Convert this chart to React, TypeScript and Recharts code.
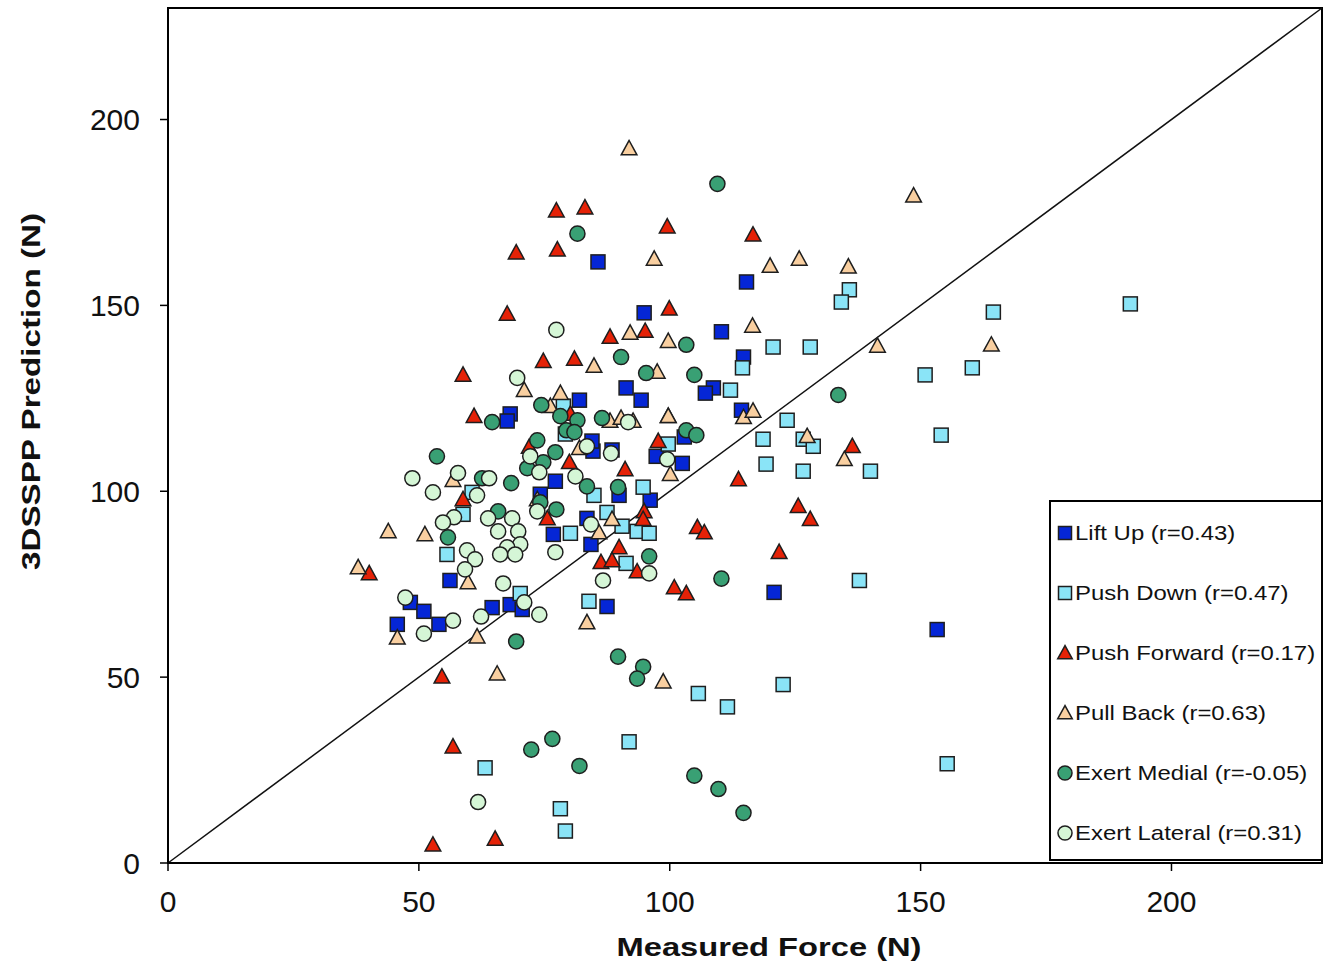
import React from 'react';
import {
  ScatterChart,
  Scatter,
  XAxis,
  YAxis,
  ReferenceLine,
  ReferenceArea,
  Legend,
  Label,
} from 'recharts';

const FONT = '"Liberation Sans", Arial, Helvetica, sans-serif';

// [measured force, 3DSSPP prediction]
const liftUp: number[][] = [
  [85.7, 161.7], [115.3, 156.3], [94.9, 148.0], [110.3, 142.9], [114.7, 136.1], [108.7, 127.8],
  [107.1, 126.4], [91.3, 127.8], [94.3, 124.5], [82.0, 124.5], [68.2, 120.8], [67.6, 118.9],
  [114.3, 121.8], [102.9, 114.6], [102.5, 107.5], [97.3, 109.4], [88.5, 111.1], [84.7, 110.8],
  [84.5, 113.5], [77.2, 102.7], [74.2, 99.2], [89.9, 98.9], [96.1, 97.6], [83.5, 92.7],
  [76.8, 88.4], [84.3, 85.7], [56.2, 76.0], [45.7, 64.2], [48.3, 70.1], [51.0, 67.7],
  [54.0, 64.2], [64.6, 68.7], [68.2, 69.5], [70.6, 68.2], [87.5, 69.0], [120.8, 72.8],
  [153.3, 62.8],
];

const pushDown: number[][] = [
  [191.8, 150.4], [135.8, 154.2], [134.2, 150.9], [164.5, 148.2], [150.9, 131.3], [160.3, 133.2],
  [154.1, 115.1], [140.0, 105.4], [137.8, 76.0], [155.3, 26.7], [122.6, 48.0], [111.5, 42.0],
  [105.7, 45.6], [91.9, 32.6], [63.2, 25.6], [78.2, 14.6], [79.2, 8.6], [83.9, 70.4],
  [55.6, 83.0], [120.6, 138.8], [128.0, 138.8], [114.5, 133.2], [112.1, 127.2], [123.4, 119.1],
  [118.6, 114.0], [126.6, 114.0], [128.6, 112.1], [119.2, 107.3], [126.6, 105.4], [99.7, 112.7],
  [94.7, 101.1], [84.9, 98.9], [87.5, 94.3], [90.5, 90.6], [93.5, 89.2], [95.9, 88.7],
  [91.3, 80.6], [78.8, 122.9], [79.2, 115.4], [60.6, 99.7], [58.8, 93.8], [80.2, 88.7],
  [70.2, 72.5],
];

const pushForward: number[][] = [
  [77.4, 175.5], [83.1, 176.3], [77.6, 165.0], [69.4, 164.2], [99.5, 171.2], [116.6, 169.0],
  [67.6, 147.7], [99.9, 149.1], [88.1, 141.5], [95.1, 143.1], [58.8, 131.3], [74.8, 135.0],
  [81.0, 135.6], [61.0, 120.2], [80.2, 120.8], [99.7, 120.2], [72.0, 111.9], [80.0, 107.8],
  [97.7, 113.5], [91.1, 105.9], [113.7, 103.2], [58.8, 97.8], [75.6, 92.7], [40.1, 77.9],
  [94.9, 94.6], [94.7, 92.5], [125.6, 96.0], [128.0, 92.5], [105.5, 90.3], [106.9, 88.9],
  [89.9, 84.9], [86.3, 80.9], [88.5, 81.4], [93.5, 78.4], [121.8, 83.6], [100.9, 74.1],
  [103.3, 72.5], [136.4, 112.1], [54.6, 50.1], [56.8, 31.3], [52.8, 4.9], [65.2, 6.5],
];

const pullBack: number[][] = [
  [91.9, 192.2], [148.6, 179.5], [96.9, 162.5], [120.0, 160.6], [125.8, 162.5], [135.6, 160.4],
  [141.4, 139.1], [164.1, 139.4], [116.5, 144.5], [92.1, 142.6], [99.7, 140.4], [97.5, 132.1],
  [84.9, 133.7], [71.0, 127.2], [78.2, 126.4], [76.2, 122.9], [114.7, 119.9], [116.6, 121.6],
  [88.1, 118.9], [90.3, 119.7], [92.7, 118.9], [99.7, 120.2], [100.1, 104.6], [82.0, 111.6],
  [56.8, 103.0], [73.6, 97.8], [43.9, 89.2], [51.2, 88.4], [37.9, 79.5], [59.8, 75.5],
  [88.5, 92.5], [85.9, 88.9], [127.4, 114.8], [134.8, 108.6], [45.7, 60.6], [61.6, 60.9],
  [83.5, 64.7], [65.6, 50.9], [98.7, 48.8],
];

const exertMedial: number[][] = [
  [109.5, 182.7], [81.6, 169.3], [133.6, 125.9], [110.3, 76.5], [89.7, 55.5], [94.7, 52.8],
  [93.5, 49.6], [72.4, 30.5], [76.6, 33.4], [82.0, 26.1], [104.9, 23.5], [109.7, 19.9],
  [114.7, 13.5], [69.4, 59.6], [53.6, 109.4], [64.6, 118.6], [103.3, 139.4], [90.3, 136.1],
  [95.3, 131.8], [104.9, 131.3], [74.4, 123.2], [78.2, 120.2], [81.6, 119.1], [79.4, 116.4],
  [81.0, 115.9], [73.6, 113.7], [77.2, 110.5], [71.6, 106.2], [74.8, 107.8], [62.6, 103.5],
  [68.4, 102.2], [83.5, 101.3], [74.2, 97.0], [77.4, 95.1], [65.8, 94.6], [55.8, 87.6],
  [86.5, 119.7], [103.3, 116.4], [105.3, 115.1], [89.7, 101.1], [95.9, 82.5],
];

const exertLateral: number[][] = [
  [77.4, 143.4], [69.6, 130.5], [48.7, 103.5], [57.8, 104.9], [64.0, 103.5], [61.6, 98.9],
  [52.8, 99.7], [72.2, 109.4], [74.0, 105.1], [81.2, 104.0], [83.5, 112.1], [73.6, 94.6],
  [63.8, 92.7], [68.6, 92.7], [65.8, 89.2], [69.8, 89.2], [70.2, 85.7], [67.6, 84.9],
  [66.2, 83.0], [69.2, 83.0], [77.2, 83.6], [57.0, 93.0], [54.8, 91.6], [59.6, 84.1],
  [61.2, 81.7], [59.2, 79.0], [66.8, 75.2], [47.3, 71.4], [71.0, 70.1], [74.0, 66.8],
  [62.4, 66.3], [56.8, 65.2], [51.0, 61.7], [91.7, 118.6], [88.3, 110.2], [99.5, 108.6],
  [84.3, 91.1], [86.7, 76.0], [95.9, 77.9], [61.8, 16.4],
];

const xTicks = [0, 50, 100, 150, 200];
const yTicks = [0, 50, 100, 150, 200];
const axisMax = 230;

type ShapeKind = 'square' | 'triangle' | 'circle';

const SERIES: { name: string; data: number[][]; fill: string; kind: ShapeKind }[] = [
  { name: 'Lift Up (r=0.43)', data: liftUp, fill: '#0526d6', kind: 'square' },
  { name: 'Push Down (r=0.47)', data: pushDown, fill: '#8ae4f7', kind: 'square' },
  { name: 'Push Forward (r=0.17)', data: pushForward, fill: '#e52207', kind: 'triangle' },
  { name: 'Pull Back (r=0.63)', data: pullBack, fill: '#f9cfa0', kind: 'triangle' },
  { name: 'Exert Medial (r=-0.05)', data: exertMedial, fill: '#39a074', kind: 'circle' },
  { name: 'Exert Lateral (r=0.31)', data: exertLateral, fill: '#d5f6d6', kind: 'circle' },
];

const STROKE = '#1e1e1e';

function Marker({ cx, cy, fill, kind, size }: { cx: number; cy: number; fill: string; kind: ShapeKind; size: number }) {
  if (cx == null || cy == null || isNaN(cx) || isNaN(cy)) return null;
  const h = size / 2;
  if (kind === 'square') {
    return <rect x={cx - h} y={cy - h} width={size} height={size} fill={fill} stroke={STROKE} strokeWidth={1.5} />;
  }
  if (kind === 'triangle') {
    const w = h * 1.12;
    const pts = `${cx},${cy - h * 1.15} ${cx - w},${cy + h * 0.9} ${cx + w},${cy + h * 0.9}`;
    return <polygon points={pts} fill={fill} stroke={STROKE} strokeWidth={1.5} strokeLinejoin="miter" />;
  }
  return <circle cx={cx} cy={cy} r={h * 1.08} fill={fill} stroke={STROKE} strokeWidth={1.5} />;
}

const LegendBox = () => (
  <div
    style={{
      width: 274,
      height: 361,
      boxSizing: 'border-box',
      border: '2px solid #000',
      background: '#fff',
      paddingTop: 1,
      fontFamily: FONT,
    }}
  >
    {SERIES.map((s) => (
      <div key={s.name} style={{ height: 60, display: 'flex', alignItems: 'center', paddingLeft: 6 }}>
        <svg width={16} height={16} style={{ overflow: 'visible', flex: 'none' }}>
          <Marker cx={8} cy={8} fill={s.fill} kind={s.kind} size={13} />
        </svg>
        <span
          style={{
            fontSize: 21,
            marginLeft: 2,
            display: 'inline-block',
            whiteSpace: 'nowrap',
            color: '#111',
            transform: 'scaleX(1.14)',
            transformOrigin: 'left center',
          }}
        >
          {s.name}
        </span>
      </div>
    ))}
  </div>
);

const XTitle = (props: any) => {
  const vb = props.viewBox || { x: 168, y: 863, width: 1154, height: 97 };
  const cx = vb.x + vb.width / 2 + 24;
  const y = vb.y + 93;
  return (
    <text
      x={cx}
      y={y}
      textAnchor="middle"
      fontFamily={FONT}
      fontWeight="bold"
      fontSize={25}
      fill="#111"
      textLength={305}
      lengthAdjust="spacingAndGlyphs"
    >
      Measured Force (N)
    </text>
  );
};

const YTitle = (props: any) => {
  const vb = props.viewBox || { x: 0, y: 8, width: 168, height: 855 };
  const x = vb.x + 40;
  const cy = vb.y + vb.height / 2 - 44;
  return (
    <text
      x={x}
      y={cy}
      transform={`rotate(-90, ${x}, ${cy})`}
      textAnchor="middle"
      fontFamily={FONT}
      fontWeight="bold"
      fontSize={25}
      fill="#111"
      textLength={357}
      lengthAdjust="spacingAndGlyphs"
    >
      3DSSPP Prediction (N)
    </text>
  );
};

export default function App() {
  return (
    <div style={{ position: 'absolute', left: 0, top: 0, width: 1324, height: 968, background: '#fff' }}>
      <ScatterChart width={1324} height={968} margin={{ top: 8, right: 2, bottom: 8, left: 0 }}>
        <XAxis
          type="number"
          dataKey="x"
          domain={[0, axisMax]}
          ticks={xTicks}
          interval={0}
          allowDataOverflow
          height={97}
          tickSize={8}
          tickMargin={20}
          tick={{ fontSize: 30, fill: '#111', fontFamily: FONT }}
          axisLine={{ stroke: '#000', strokeWidth: 2 }}
          tickLine={{ stroke: '#000', strokeWidth: 1.5 }}
        >
          <Label content={XTitle} />
        </XAxis>
        <YAxis
          type="number"
          dataKey="y"
          domain={[0, axisMax]}
          ticks={yTicks}
          interval={0}
          allowDataOverflow
          width={168}
          tickSize={8}
          tickMargin={20}
          tick={{ fontSize: 30, fill: '#111', fontFamily: FONT }}
          axisLine={{ stroke: '#000', strokeWidth: 2 }}
          tickLine={{ stroke: '#000', strokeWidth: 1.5 }}
        >
          <Label content={YTitle} />
        </YAxis>
        <ReferenceArea x1={0} x2={axisMax} y1={0} y2={axisMax} fill="none" stroke="#000" strokeWidth={2} />
        <ReferenceLine
          segment={[{ x: 0, y: 0 }, { x: axisMax, y: axisMax }]}
          stroke="#111"
          strokeWidth={1.5}
        />
        {SERIES.map((s) => (
          <Scatter
            key={s.name}
            name={s.name}
            data={s.data.map(([x, y]) => ({ x, y }))}
            fill={s.fill}
            isAnimationActive={false}
            shape={(p: any) => <Marker cx={p.cx} cy={p.cy} fill={s.fill} kind={s.kind} size={14} />}
          />
        ))}
        <Legend
          content={LegendBox}
          layout="horizontal"
          verticalAlign="middle"
          align="center"
          wrapperStyle={{ left: 1049, top: 500, width: 274, height: 361 }}
        />
      </ScatterChart>
    </div>
  );
}
